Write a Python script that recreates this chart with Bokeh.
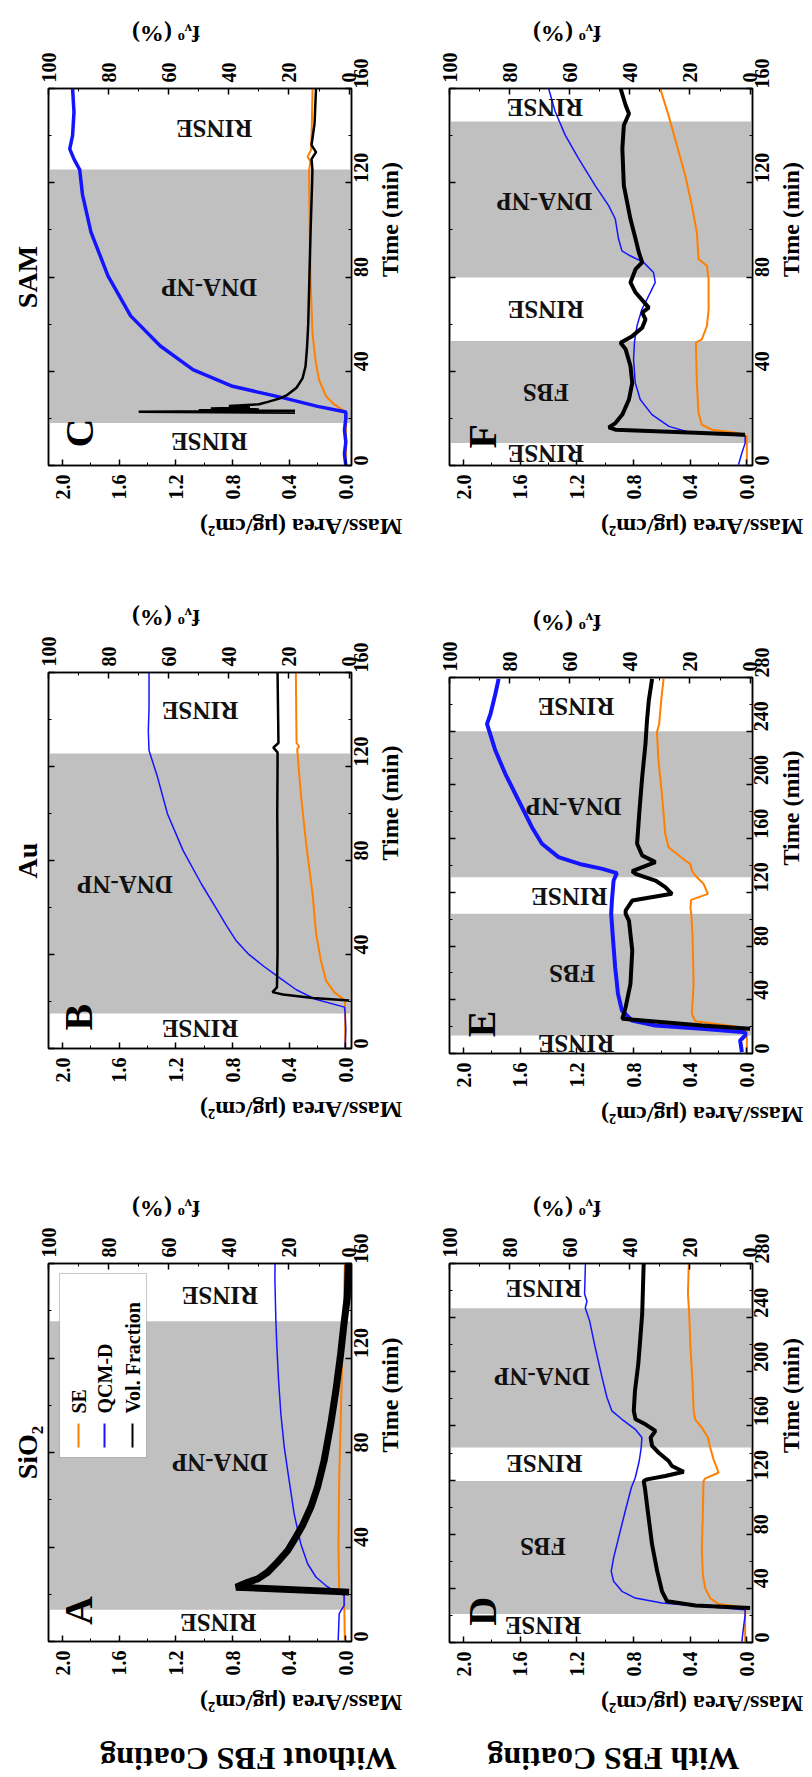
import math
from bokeh.plotting import figure
from bokeh.models import (Range1d, LinearAxis, FixedTicker, PrintfTickFormatter, BoxAnnotation,
                          Label, CustomLabelingPolicy)
from bokeh.layouts import row, column
from bokeh.embed import file_html
from bokeh.resources import INLINE

FONT = "Liberation Serif"
ORANGE = "#FF7F00"
BLUE = "#1414FF"
GRAY = "#C0C0C0"

# ---------------- data ----------------
panel_titles = {"A": "SiO₂", "B": "Au", "C": "SAM"}
row_labels = ["Without FBS Coating", "With FBS Coating"]
legend_labels = ["SE", "QCM-D", "Vol. Fraction"]

# phases (gray = exposure), minutes
bands_A = [(13.4, 135.6)]
bands_B = [(14.9, 125.5)]
bands_C = [(18.0, 125.6)]
bands_D = [(21.0, 119.3), (144.0, 247.0)]
bands_E = [(13.4, 104.0), (131.3, 240.0)]
bands_F = [(9.5, 52.8), (79.8, 146.0)]

phase_A = ["RINSE", "DNA-NP", "RINSE"]
phase_B = ["RINSE", "DNA-NP", "RINSE"]
phase_C = ["RINSE", "DNA-NP", "RINSE"]
phase_D = ["RINSE", "FBS", "RINSE", "DNA-NP", "RINSE"]
phase_E = ["RINSE", "FBS", "RINSE", "DNA-NP", "RINSE"]
phase_F = ["RINSE", "FBS", "RINSE", "DNA-NP", "RINSE"]

# ---- Panel A (SiO2) ----
A_qcm_t = [0.4, 11.7, 13.1, 15.2, 19.5, 21.3, 23.7, 27.2, 32.9, 41.3, 54, 68, 82.3, 96.4, 110.5, 124.6, 135.6, 152.8, 160]
A_qcm = [0.054, 0.047, 0.035, 0.012, 0.012, 0.082, 0.141, 0.21, 0.27, 0.318, 0.365, 0.40, 0.435, 0.459, 0.475, 0.487, 0.494, 0.501, 0.50]
A_se_t = [0.4, 18.8, 20.9, 21.9, 39.9, 68, 96.4, 124.6, 145.7, 160]
A_se = [0.007, 0.012, 0.012, 0.047, 0.052, 0.047, 0.035, 0.024, 0.012, 0.007]
A_vf_t = [20.9, 23, 25.1, 26.5, 29.3, 33.6, 38.5, 44.2, 49.1, 56.9, 65.3, 76.6, 92.1, 106.2, 121.8, 134.5, 145.7, 160]
A_vf = [0, 37.6, 33.7, 30.4, 27.1, 23.8, 20.4, 17.7, 15.5, 12.7, 10.5, 8.3, 6.1, 4.4, 2.8, 1.7, 0.6, 0.3]

# ---- Panel B (Au) ----
B_qcm_t = [0, 8, 15, 17.6, 21.1, 25, 29.7, 35, 40.3, 46, 52, 58.7, 70, 84.3, 99.9, 115.5, 126.8, 135, 145, 160]
B_qcm = [0.005, 0.0, 0.005, 0.01, 0.22, 0.35, 0.46, 0.58, 0.69, 0.776, 0.84, 0.906, 1.02, 1.15, 1.26, 1.33, 1.39, 1.395, 1.39, 1.39]
B_se_t = [0, 10, 20.4, 24, 28.9, 37.4, 48.8, 65.8, 87, 108.4, 125.4, 127.5, 128.5, 130, 140, 160]
B_se = [0.005, 0.005, 0.005, 0.082, 0.14, 0.176, 0.21, 0.235, 0.28, 0.318, 0.341, 0.343, 0.33, 0.348, 0.35, 0.353]
B_vf_t = [20.4, 21.5, 23, 24, 26, 40, 60, 80, 100, 120, 126, 128, 130, 140, 160]
B_vf = [0, 12, 22, 25.5, 24, 23.8, 23.8, 23.8, 23.9, 23.8, 23.8, 25.2, 23.5, 23.6, 23.8]

# ---- Panel C (SAM) ----
C_qcm_t = [0, 5, 10, 15, 20, 22.7, 25.1, 28.7, 33.6, 40.7, 50.7, 63.5, 80.5, 99, 115, 125.6, 130, 134.4, 140, 150, 160]
C_qcm = [0.0, 0.01, 0.0, 0.01, 0.0, 0.0, 0.2, 0.44, 0.80, 1.08, 1.31, 1.52, 1.68, 1.80, 1.86, 1.88, 1.92, 1.95, 1.93, 1.92, 1.93]
C_se_t = [0, 10, 20, 22.7, 25.8, 29.4, 36.5, 45, 56, 80, 100, 125, 129, 131, 134, 145, 160]
C_se = [0.0, 0.0, 0.0, 0.0, 0.08, 0.14, 0.19, 0.215, 0.235, 0.25, 0.255, 0.26, 0.25, 0.27, 0.245, 0.24, 0.235]
C_vf_t = [22.4, 22.8, 23.2, 23.5, 23.8, 24.2, 24.6, 25.2, 26, 27, 28.5, 30, 33, 37, 42, 50, 60, 80, 100, 120, 125.6, 130, 133, 136, 145, 160]
C_vf = [18, 70, 18, 50, 30, 46, 33, 40, 30, 27, 23, 20.5, 17.5, 15.5, 14.5, 14, 13.6, 13.2, 12.8, 12.3, 12.2, 12.5, 11, 12.5, 11.5, 11]

# ---- Panel D (SiO2 + FBS) ----
D_qcm_t = [0.7, 10.6, 20.5, 24.2, 26.7, 29.1, 32.8, 37.8, 45.2, 52.6, 62.5, 77.3, 97, 114.3, 121.7, 134.1, 144, 151.4, 157.5, 164.9, 171.1, 181, 198.3, 218, 237.8, 247.2, 252.1, 257.5, 280]
D_qcm = [0.035, 0.024, 0.012, 0.012, 0.318, 0.6, 0.788, 0.882, 0.941, 0.958, 0.941, 0.906, 0.859, 0.816, 0.788, 0.76, 0.746, 0.741, 0.788, 0.882, 0.953, 0.988, 1.028, 1.071, 1.111, 1.141, 1.129, 1.146, 1.14]
D_se_t = [0.7, 24.2, 25.9, 28.4, 32.8, 40.2, 50.1, 69.9, 94.6, 119.3, 121.2, 125.4, 129.1, 135.3, 144, 151.4, 158.8, 164.9, 171.1, 193.3, 218, 242.7, 257.5, 280]
D_se = [0.012, 0.012, 0.0, 0.2, 0.259, 0.294, 0.311, 0.318, 0.311, 0.306, 0.294, 0.2, 0.212, 0.235, 0.259, 0.275, 0.318, 0.365, 0.376, 0.384, 0.398, 0.407, 0.416, 0.41]
D_vf_t = [25.4, 27.4, 30.4, 37.8, 52.6, 72.3, 94.6, 114.3, 119.3, 120.5, 123, 126.2, 130.4, 134.1, 140.2, 145.2, 151.4, 156.3, 161.2, 164.9, 171.1, 185.9, 205.7, 225.4, 242.7, 257.5, 280]
D_vf = [0, 18.2, 27.6, 29.3, 30.9, 32.6, 33.9, 35, 35.4, 34.3, 28.2, 22.1, 26, 27.1, 30.4, 32.6, 33.1, 31.5, 34.8, 38.1, 38.7, 38.3, 37.2, 36.5, 35.9, 35.7, 35.4]

# ---- Panel E (Au + FBS) ----
E_qcm_t = [1, 9.7, 13.4, 15.9, 18.4, 20.9, 24.6, 32, 44.4, 64.3, 89.1, 104, 113.9, 128.8, 134.3, 137.5, 140.7, 146.2, 156.2, 168.5, 188.4, 208.3, 225.6, 240, 245.5, 253, 267.9, 279]
E_qcm = [0.035, 0.047, 0.012, 0.012, 0.318, 0.647, 0.812, 0.882, 0.91, 0.93, 0.948, 0.958, 0.953, 0.941, 0.918, 1.02, 1.165, 1.33, 1.447, 1.518, 1.612, 1.706, 1.776, 1.819, 1.835, 1.81, 1.776, 1.753]
E_se_t = [1, 17.1, 20.1, 24.1, 29.6, 51.9, 89.1, 104, 108.9, 114.4, 118.9, 126.4, 132.6, 136.3, 141.3, 143.7, 153.6, 163.6, 193.4, 218.2, 239.3, 245.5, 262.9, 279]
E_se = [0.0, 0.0, 0.082, 0.365, 0.388, 0.376, 0.384, 0.393, 0.398, 0.393, 0.275, 0.306, 0.365, 0.388, 0.40, 0.435, 0.553, 0.576, 0.60, 0.624, 0.635, 0.619, 0.605, 0.588]
E_vf_t = [18.4, 20.9, 25.8, 34.5, 51.9, 76.7, 99, 104, 106.5, 113.9, 118.9, 123.9, 128.8, 133.8, 135.8, 142.5, 147.5, 156.2, 181, 205.8, 230.6, 248, 262.9, 279]
E_vf = [0, 16, 42.5, 41.4, 39.8, 39.2, 40.3, 41.4, 41.4, 39.2, 26, 28.2, 31.5, 38.1, 39.2, 31.5, 35.9, 37.6, 36.8, 35.9, 34.8, 34.3, 33.7, 32.6]

# ---- Panel F (SAM + FBS) ----
F_qcm_t = [0.3, 5.3, 9.5, 12.6, 13.8, 16.6, 21.6, 28, 35.1, 45, 52.8, 59.2, 66.3, 73.4, 77.7, 81.9, 86.2, 89, 91.1, 96.1, 104.6, 110.3, 118.8, 130.2, 140.1, 150.1, 160]
F_qcm = [0.059, 0.035, 0.012, 0.012, 0.39, 0.55, 0.67, 0.753, 0.788, 0.80, 0.793, 0.776, 0.741, 0.682, 0.647, 0.659, 0.729, 0.824, 0.882, 0.906, 0.929, 0.976, 1.071, 1.188, 1.282, 1.353, 1.40]
F_se_t = [0.3, 12.4, 13.8, 15.2, 17.3, 22.3, 35.1, 52.1, 53.5, 59.2, 66.3, 79.1, 84.8, 87.6, 98.9, 110.3, 123.1, 135.9, 148.6, 160]
F_se = [0.0, 0.0, 0.06, 0.247, 0.318, 0.341, 0.353, 0.36, 0.318, 0.282, 0.27, 0.27, 0.282, 0.341, 0.353, 0.388, 0.435, 0.494, 0.553, 0.612]
F_vf_t = [13.1, 13.8, 15.2, 16.2, 18, 21.6, 28, 35.1, 42.2, 49.3, 52.1, 54.9, 58.5, 62, 64.9, 67, 73.4, 77.7, 83.3, 86.2, 90.4, 96.1, 104.6, 118.8, 134.4, 144.4, 149.3, 152.9, 160]
F_vf = [1.7, 16, 44.8, 47, 44.8, 42.5, 40.3, 39.2, 39.8, 41.4, 43.1, 39.2, 35.9, 34.8, 35.9, 33.7, 38.1, 39.8, 38.1, 35.9, 37, 38.1, 39.8, 42, 42.5, 42, 40.3, 41.4, 43.1]

# ---------------- layout constants ----------------
FRAME_W = 303
LEFT_BORDERS = (48, 88)     # left column: left, right
RIGHT_BORDERS = (10, 60)    # right column: left, right
LABEL_POS = {  # (mass, time) positions of phase labels
    "A": [(0.90, 7.9), (0.89, 75.9), (0.89, 146.5)],
    "B": [(1.03, 8.5), (1.56, 70.0), (1.03, 143.8)],
    "C": [(0.965, 10.2), (0.965, 75.5), (0.93, 143.0)],
    "D": [(1.44, 12.6), (1.44, 70.6), (1.43, 132.3), (1.447, 196.5), (1.435, 261.5)],
    "E": [(1.207, 7.2), (1.235, 59.3), (1.254, 117.2), (1.224, 184.2), (1.207, 258.7)],
    "F": [(1.42, 5.0), (1.42, 30.8), (1.42, 66.0), (1.43, 112.2), (1.427, 151.9)],
}
LETTER_POS = {"A": (1.89, 13.1), "B": (1.89, 13.3), "C": (1.88, 13.8),
              "D": (1.87, 23.0), "E": (1.875, 22.1), "F": (1.87, 12.4)}


def hide_all():
    return CustomLabelingPolicy(code="for (const i of indices) { indices.unset(i) } return indices")


def style_axis(ax, ticks, minor, fmt):
    ax.ticker = FixedTicker(ticks=ticks, minor_ticks=minor)
    ax.formatter = PrintfTickFormatter(format=fmt)
    ax.major_label_orientation = math.pi / 2
    ax.major_label_text_font = FONT
    ax.major_label_text_font_style = "bold"
    ax.major_label_text_font_size = "20px"
    ax.major_label_text_color = "black"
    ax.major_tick_in = 6
    ax.major_tick_out = 0
    ax.minor_tick_in = 3
    ax.minor_tick_out = 0
    ax.axis_line_color = "black"
    ax.axis_line_width = 1.5
    ax.major_tick_line_color = "black"
    ax.minor_tick_line_color = "black"
    ax.major_tick_line_width = 1.5
    ax.axis_label_text_font = FONT
    ax.axis_label_text_font_style = "bold"
    ax.axis_label_text_font_size = "24px"
    ax.axis_label_text_color = "black"


def make_panel(key, tmax, frame_h, bt, bb, side_borders, bands, phases, series, widths):
    bl, br = side_borders
    p = figure(frame_width=FRAME_W, frame_height=frame_h,
               x_range=Range1d(2.1, -0.04), y_range=Range1d(0, tmax),
               x_axis_location="below", y_axis_location="right",
               output_backend="svg", toolbar_location=None,
               min_border_top=bt, min_border_bottom=bb,
               min_border_left=bl, min_border_right=br)
    p.extra_x_ranges = {"fv": Range1d(100, -0.8)}
    p.grid.visible = False
    p.outline_line_color = "black"
    p.outline_line_width = 1.5
    p.background_fill_color = "white"
    p.border_fill_color = "white"

    tick_step = 40
    tt = list(range(0, tmax + 1, tick_step))
    tm = list(range(20, tmax, tick_step))

    # mass axis (below)
    mx = p.xaxis[0]
    style_axis(mx, [0, 0.4, 0.8, 1.2, 1.6, 2.0], [0.2, 0.6, 1.0, 1.4, 1.8], "%.1f")
    mx.axis_label = "Mass/Area (μg/cm²)"
    mx.axis_label_orientation = math.pi
    mx.major_label_standoff = 9
    mx.axis_label_standoff = 24

    # time axis (right)
    ty = p.yaxis[0]
    style_axis(ty, tt, tm, "%d")
    ty.axis_label = "Time (min)"
    ty.axis_label_orientation = math.pi / 2
    ty.major_label_standoff = 9
    ty.axis_label_standoff = 12

    # volume fraction axis (above)
    fx = LinearAxis(x_range_name="fv")
    style_axis(fx, [0, 20, 40, 60, 80, 100], [10, 30, 50, 70, 90], "%d")
    fx.axis_label = "fᵥᵒ (%)"
    fx.axis_label_orientation = math.pi
    fx.major_label_standoff = 6
    fx.axis_label_standoff = 16
    p.add_layout(fx, "above")

    # mirror ticks on left edge (no labels); carries the column title
    lx = LinearAxis()
    style_axis(lx, tt, tm, "%d")
    lx.major_label_text_font_size = "1px"
    lx.major_label_standoff = 0
    lx.major_label_policy = hide_all()
    if key in panel_titles:
        lx.axis_label = panel_titles[key]
        lx.axis_label_text_font_size = "28px"
        lx.axis_label_standoff = 2
    p.add_layout(lx, "left")

    for t0, t1 in bands:
        p.add_layout(BoxAnnotation(bottom=t0, top=t1, fill_color=GRAY, fill_alpha=1.0,
                                   line_alpha=0, level="underlay"))

    (se_t, se), (q_t, q), (v_t, v) = series
    wse, wq, wv = widths
    p.line(x=se, y=se_t, line_color=ORANGE, line_width=wse)
    p.line(x=q, y=q_t, line_color=BLUE, line_width=wq)
    p.line(x=v, y=v_t, x_range_name="fv", line_color="black", line_width=wv)

    for txt, (mx_, ty_) in zip(phases, LABEL_POS[key]):
        p.add_layout(Label(x=mx_, y=ty_, text=txt, angle=math.pi,
                           text_align="center", text_baseline="middle",
                           text_font=FONT, text_font_style="bold",
                           text_font_size="25px", text_color="#111111"))
    lxp, lyp = LETTER_POS[key]
    p.add_layout(Label(x=lxp, y=lyp, text=key, angle=math.pi / 2,
                       text_align="center", text_baseline="middle",
                       text_font=FONT, text_font_style="bold",
                       text_font_size="40px", text_color="black"))
    return p


def row_label_fig(text, width, height, cx, cy):
    # a strip below the bottom panel carrying the (upside-down) row label
    p = figure(frame_width=width, frame_height=height,
               x_range=Range1d(0, width), y_range=Range1d(0, height),
               x_axis_location=None, y_axis_location=None,
               output_backend="svg", toolbar_location=None,
               min_border=0, min_border_left=0, min_border_right=0,
               min_border_top=0, min_border_bottom=0)
    p.grid.visible = False
    p.outline_line_color = None
    p.add_layout(Label(x=cx, y=cy, text=text, angle=math.pi,
                       text_align="center", text_baseline="middle",
                       text_font=FONT, text_font_style="bold",
                       text_font_size="32px", text_color="black"))
    return p


pC = make_panel("C", 160, 377, 88, 105, LEFT_BORDERS, bands_C, phase_C,
                [(C_se_t, C_se), (C_qcm_t, C_qcm), (C_vf_t, C_vf)], (2, 3.5, 2.5))
pB = make_panel("B", 160, 376, 102, 112, LEFT_BORDERS, bands_B, phase_B,
                [(B_se_t, B_se), (B_qcm_t, B_qcm), (B_vf_t, B_vf)], (2, 1.5, 2.5))
pA = make_panel("A", 160, 378, 103, 96, LEFT_BORDERS, bands_A, phase_A,
                [(A_se_t, A_se), (A_qcm_t, A_qcm), (A_vf_t, A_vf)], (2, 1.5, 7))
pF = make_panel("F", 160, 377, 88, 105, RIGHT_BORDERS, bands_F, phase_F,
                [(F_se_t, F_se), (F_qcm_t, F_qcm), (F_vf_t, F_vf)], (2, 1.5, 4))
pE = make_panel("E", 280, 376, 107, 107, RIGHT_BORDERS, bands_E, phase_E,
                [(E_se_t, E_se), (E_qcm_t, E_qcm), (E_vf_t, E_vf)], (2, 4, 4))
pD = make_panel("D", 280, 379, 103, 95, RIGHT_BORDERS, bands_D, phase_D,
                [(D_se_t, D_se), (D_qcm_t, D_qcm), (D_vf_t, D_vf)], (2, 1.5, 4))

# legend in panel A (rotated, drawn as annotations in screen units)
pA.add_layout(BoxAnnotation(left=11, right=98, bottom=184, top=368,
                            left_units="screen", right_units="screen",
                            bottom_units="screen", top_units="screen",
                            fill_color="white", fill_alpha=1.0,
                            line_color="#444444", line_width=1))
for xs, col, txt in zip([30, 56, 84], [ORANGE, BLUE, "black"], legend_labels):
    pA.add_layout(BoxAnnotation(left=xs - 1, right=xs + 1, bottom=194, top=218,
                                left_units="screen", right_units="screen",
                                bottom_units="screen", top_units="screen",
                                fill_color=col, fill_alpha=1.0, line_alpha=0))
    pA.add_layout(Label(x=xs, y=228, x_units="screen", y_units="screen", text=txt,
                        angle=math.pi / 2, text_align="left", text_baseline="middle",
                        text_font=FONT, text_font_style="bold", text_font_size="20px",
                        text_color="black"))

lw = LEFT_BORDERS[0] + FRAME_W + LEFT_BORDERS[1]
rw = RIGHT_BORDERS[0] + FRAME_W + RIGHT_BORDERS[1]
rowA = row_label_fig(row_labels[0], lw, 38, 200, 17)
rowD = row_label_fig(row_labels[1], rw, 38, 164, 17)

layout = row(column(pC, pB, pA, rowA, spacing=0), column(pF, pE, pD, rowD, spacing=0), spacing=0)

open("out.html", "w").write(file_html(layout, INLINE))
